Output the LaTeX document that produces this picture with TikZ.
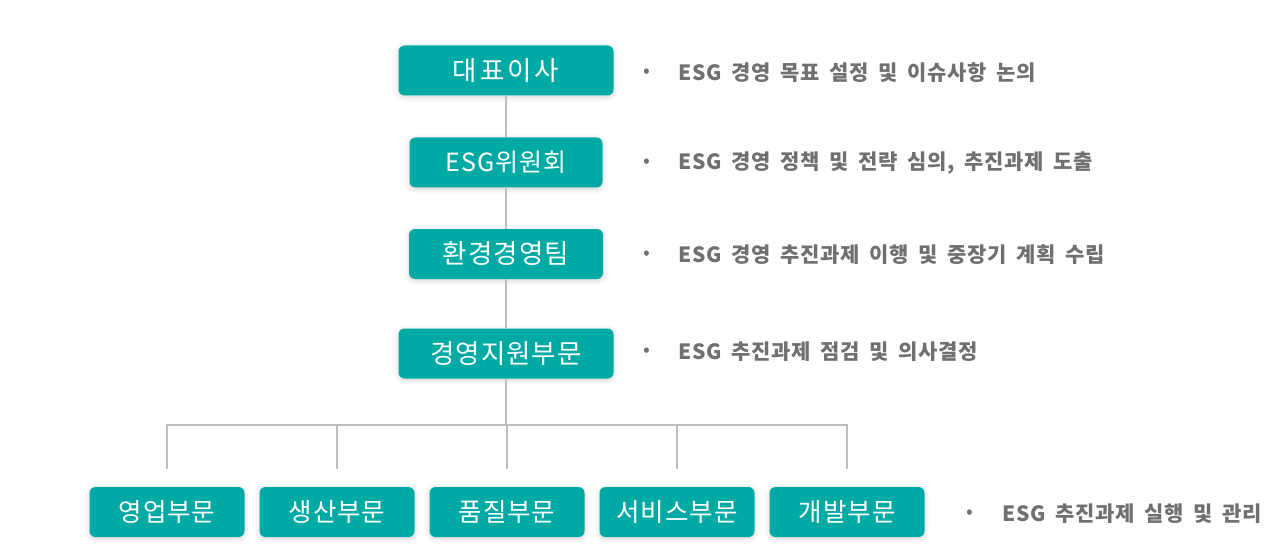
\documentclass[tikz,border=0pt]{standalone}
\usepackage{fontspec}
\setmainfont{Noto Sans CJK KR}
\newfontfamily\boxfont[LetterSpace=4]{Noto Sans CJK KR}
\newfontfamily\boxwidefont[LetterSpace=11]{Noto Sans CJK KR}
\newfontfamily\descfont[WordSpace=1.8, LetterSpace=3]{Noto Sans CJK KR}
\usetikzlibrary{shadows.blur}
\definecolor{teal}{RGB}{0,170,164}
\definecolor{linegray}{RGB}{190,190,190}
\definecolor{textgray}{RGB}{112,112,112}
\tikzset{
  orgbox/.style={fill=teal, rounded corners=6pt, minimum height=50pt, inner sep=0pt,
    text=white, font=\boxfont\fontsize{26.5}{30}\selectfont,
    blur shadow={shadow xshift=0pt, shadow yshift=-1.5pt, shadow blur radius=5pt, shadow opacity=18}},
  unitbox/.style={orgbox, minimum width=155pt, font=\boxfont\fontsize{25.5}{28}\selectfont},
  orgline/.style={draw=linegray, line width=2.6pt},
  desc/.style={anchor=west, text=textgray, font=\descfont\bfseries\fontsize{21}{24}\selectfont, inner sep=0pt},
  dot/.style={text=textgray, font=\fontsize{20}{22}\selectfont, inner sep=0pt}
}
\begin{document}
\begin{tikzpicture}[x=1pt, y=-1pt]
  \useasboundingbox (0,0) rectangle (1274,548);
  \def\bx{506}
  % upper chain
  \node[orgbox, minimum width=215pt, font=\boxwidefont\fontsize{26.5}{30}\selectfont] (ceo) at (\bx, 70.5) {대표이사};
  \node[orgbox, minimum width=193pt, font=\boxfont\fontsize{25}{28}\selectfont] (board) at (\bx, 162.5) {ESG위원회};
  \node[orgbox, minimum width=194pt] (env) at (\bx, 254) {환경경영팀};
  \node[orgbox, minimum width=215pt] (mgmt) at (\bx, 353.5) {경영지원부문};
  % branches
  \coordinate (bar) at (\bx, 425);
  \coordinate (barl) at (167, 425);
  \coordinate (barr) at (847, 425);
  \foreach \x/\n/\t in {167/sales/영업부문, 337/prod/생산부문, 507/qual/품질부문, 677/serv/서비스부문, 847/dev/개발부문} {
    \node[unitbox] (\n) at (\x, 512) {\t};
    \coordinate (\n top) at (\x, 425);
    \coordinate (\n end) at (\x, 469);
  }
  \draw[orgline] (ceo.south) -- (board.north);
  \draw[orgline] (board.south) -- (env.north);
  \draw[orgline] (env.south) -- (mgmt.north);
  \draw[orgline] (mgmt.south) -- (bar);
  \draw[orgline, line cap=rect] (barl) -- (barr);
  \foreach \n in {sales, prod, qual, serv, dev}
    \draw[orgline] (\n top) -- (\n end);
  % descriptions
  \foreach \y/\n/\t in {73/dceo/ESG 경영 목표 설정 및 이슈사항 논의,
                        163/dboard/{ESG 경영 정책 및 전략 심의, 추진과제 도출},
                        255/denv/ESG 경영 추진과제 이행 및 중장기 계획 수립,
                        352/dmgmt/ESG 추진과제 점검 및 의사결정} {
    \node[dot] (\n dot) at (647, \y) {•};
    \node[desc] (\n) at (678, \y) {\t};
  }
  \node[dot] (ddiv dot) at (970, 514) {•};
  \node[desc] (ddiv) at (1002, 514) {ESG 추진과제 실행 및 관리};
\end{tikzpicture}
\end{document}
